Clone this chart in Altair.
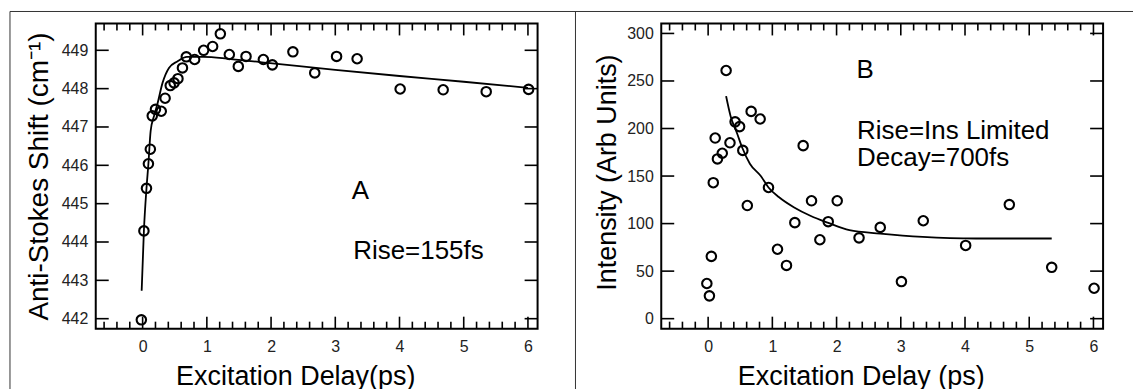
import altair as alt
import pandas as pd

# ---------------- data ----------------
# Panel A: anti-Stokes shift vs delay
a_x = [-0.02, 0.02, 0.06, 0.09, 0.12, 0.15, 0.20, 0.29, 0.35, 0.43, 0.49, 0.55, 0.62,
       0.68, 0.81, 0.95, 1.09, 1.21, 1.35, 1.49, 1.61, 1.88, 2.02, 2.34, 2.68, 3.02,
       3.34, 4.01, 4.68, 5.35, 6.01]
a_y = [441.97, 444.29, 445.40, 446.04, 446.42, 447.29, 447.46, 447.41, 447.75, 448.08,
       448.15, 448.26, 448.54, 448.83, 448.76, 449.00, 449.10, 449.43, 448.89, 448.58,
       448.84, 448.76, 448.62, 448.96, 448.41, 448.84, 448.78, 447.99, 447.97, 447.92,
       447.98]
# Panel A fit curve
a_fit_x = [-0.015, 0.02, 0.06, 0.09, 0.125, 0.18, 0.23, 0.31, 0.41, 0.54, 0.69, 0.95,
           1.37, 2.02, 3.0, 4.0, 5.0, 6.0]
a_fit_y = [442.73, 444.3, 445.4, 446.04, 446.9, 447.3, 447.6, 448.15, 448.54, 448.71,
           448.83, 448.83, 448.77, 448.66, 448.49, 448.33, 448.18, 448.02]

# Panel B: intensity vs delay
b_x = [-0.02, 0.02, 0.05, 0.08, 0.11, 0.145, 0.22, 0.28, 0.34, 0.42, 0.49, 0.54, 0.61,
       0.67, 0.81, 0.94, 1.08, 1.22, 1.35, 1.48, 1.61, 1.74, 1.87, 2.01, 2.35, 2.68,
       3.01, 3.35, 4.01, 4.69, 5.35, 6.01]
b_y = [37, 24, 65.5, 143, 190, 168, 174, 261, 185, 207, 202, 177, 119, 218, 210, 138,
       73, 56, 101, 182, 124, 83, 102, 124, 85, 96, 39, 103, 77, 120, 54, 32]
# Panel B fit curve
b_fit_x = [0.28, 0.35, 0.45, 0.53, 0.65, 0.82, 0.94, 1.1, 1.34, 1.6, 1.86, 2.2, 2.68,
           3.34, 4.17, 5.35]
b_fit_y = [234, 213, 195, 180, 163, 150, 138, 128, 117, 108, 101, 93, 89.5, 86, 84.3,
           84.3]

# axis ticks / labels
x_major = [0, 1, 2, 3, 4, 5, 6]
x_minor = [-0.6, -0.4, -0.2, 0.2, 0.4, 0.6, 0.8, 1.2, 1.4, 1.6, 1.8, 2.2, 2.4, 2.6, 2.8,
           3.2, 3.4, 3.6, 3.8, 4.2, 4.4, 4.6, 4.8, 5.2, 5.4, 5.6, 5.8]
a_yticks = [442, 443, 444, 445, 446, 447, 448, 449]
b_yticks = [0, 50, 100, 150, 200, 250, 300]

a_notes = ["A", "Rise=155fs"]
a_note_x = [3.39, 3.28]
a_note_y = [445.33, 443.77]
a_note_align = ["center", "left"]
b_notes = ["B", "Rise=Ins Limited", "Decay=700fs"]
b_note_x = [2.31, 2.32, 2.32]
b_note_y = [262, 197.5, 169]

# ---------------- layout ----------------
W, H = 443, 306
FONT = "Liberation Sans"
MAJ, MIN = 12, 7


def rule_px(x1, x2, y1, y2, color="#333", width=1, opacity=1):
    return alt.Chart(pd.DataFrame({"k": [0]})).mark_rule(
        color=color, strokeWidth=width, strokeOpacity=opacity
    ).encode(x=alt.value(x1), x2=alt.value(x2), y=alt.value(y1), y2=alt.value(y2))


def panel(px, py, fx, fy, yticks, xdom, ydom, xtitle, ytitle, ytitle_x, ytitle_y,
          ytitle_size, notes, extras):
    xs = alt.Scale(domain=xdom, nice=False, zero=False)
    ys = alt.Scale(domain=ydom, nice=False, zero=False)
    xax = alt.Axis(values=x_major, format="d", title=xtitle, titleX=200, titleY=56,
                   titleAlign="center", titleBaseline="alphabetic")
    yax = alt.Axis(values=yticks, format="d", title=ytitle, titleX=ytitle_x,
                   titleY=ytitle_y, titleAngle=270, titleAlign="center",
                   titleBaseline="alphabetic", titleFontSize=ytitle_size)
    X = alt.X("x:Q", scale=xs, axis=xax)
    Y = alt.Y("y:Q", scale=ys, axis=yax)

    pts = alt.Chart(pd.DataFrame({"x": px, "y": py})).mark_point(
        shape="circle", filled=False, color="black", size=90, strokeWidth=2.1, opacity=1
    ).encode(x=X, y=Y)
    fit = alt.Chart(pd.DataFrame({"x": fx, "y": fy})).mark_line(
        color="black", strokeWidth=1.8, interpolate="monotone"
    ).encode(x=X, y=Y)

    dmaj = pd.DataFrame({"x": x_major})
    dmin = pd.DataFrame({"x": x_minor})
    dy = pd.DataFrame({"y": yticks})
    tk = dict(color="black", strokeWidth=1.6)
    ticks = [
        alt.Chart(dmaj).mark_rule(**tk).encode(x=X, y=alt.value(H), y2=alt.value(H - MAJ)),
        alt.Chart(dmaj).mark_rule(**tk).encode(x=X, y=alt.value(0), y2=alt.value(MAJ)),
        alt.Chart(dmin).mark_rule(**tk).encode(x=X, y=alt.value(H), y2=alt.value(H - MIN)),
        alt.Chart(dmin).mark_rule(**tk).encode(x=X, y=alt.value(0), y2=alt.value(MIN)),
        alt.Chart(dy).mark_rule(**tk).encode(y=Y, x=alt.value(0), x2=alt.value(13)),
        alt.Chart(dy).mark_rule(**tk).encode(y=Y, x=alt.value(W), x2=alt.value(W - 13)),
    ]

    txt_layers = []
    for (t, xv, yv, al) in notes:
        txt_layers.append(
            alt.Chart(pd.DataFrame({"x": [xv], "y": [yv], "t": [t]})).mark_text(
                font=FONT, fontSize=26, align=al, baseline="middle", color="black"
            ).encode(x=X, y=Y, text="t:N")
        )

    return alt.layer(*extras, *ticks, fit, pts, *txt_layers).properties(
        width=W, height=H
    )


# page frame (top line, left line, divider) and invisible page-extent markers
extras_a = [
    rule_px(-86, 1040, -12, -12),
    rule_px(-86, -86, -12, 367),
    rule_px(481, 481, -12, 367),
    rule_px(-95, -95, -22, -21, opacity=0),
]
extras_b = [rule_px(473, 473, 366, 367, opacity=0)]

chart_a = panel(a_x, a_y, a_fit_x, a_fit_y, a_yticks, [-0.73, 6.15], [441.74, 449.70],
                "Excitation Delay(ps)", "Anti-Stokes Shift (cm\u207b\u00b9)", -48, 153, 28,
                [(t, x, y, al) for t, x, y, al in zip(a_notes, a_note_x, a_note_y, a_note_align)],
                extras_a)
chart_b = panel(b_x, b_y, b_fit_x, b_fit_y, b_yticks, [-0.73, 6.15], [-10.5, 310.5],
                "Excitation Delay (ps)", "Intensity (Arb Units)", -46, 149, 27,
                [(t, x, y, "left") for t, x, y in zip(b_notes, b_note_x, b_note_y)],
                extras_b)

chart = alt.hconcat(chart_a, chart_b, spacing=124, bounds="flush").properties(
    autosize=alt.AutoSizeParams(type="pad"),
    padding=0,
    background="white",
).configure_view(
    stroke="black", strokeWidth=2
).configure_axis(
    domain=False, ticks=False, tickSize=0, grid=False,
    labelFont=FONT, labelFontSize=16, labelColor="#222", labelPadding=10,
    titleFont=FONT, titleFontSize=27, titleFontWeight="normal", titleColor="black",
).configure_axisLeft(labelPadding=8)

chart.save("out.html", embed_options={"renderer": "svg", "actions": False})
